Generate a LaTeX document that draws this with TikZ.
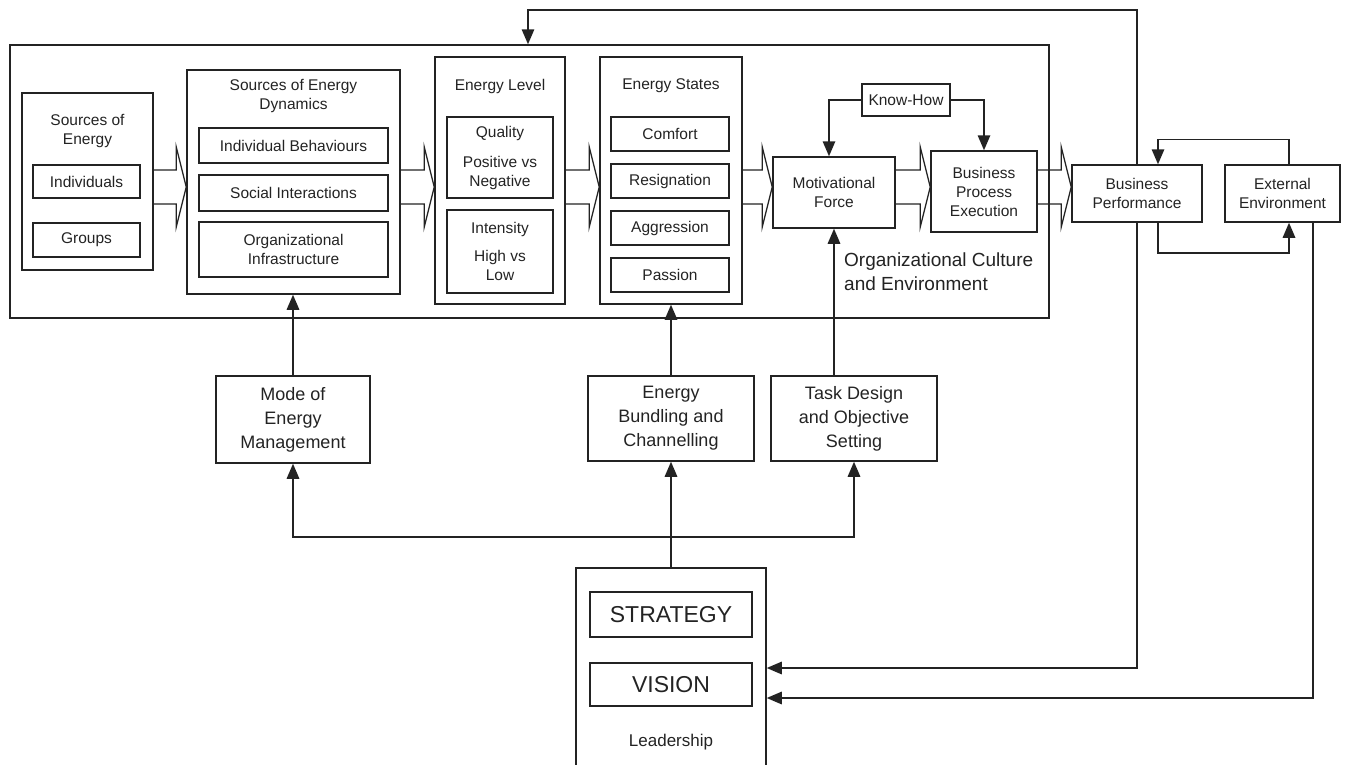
\documentclass[tikz,border=0pt]{standalone}
\usepackage{fontspec}
\setmainfont{Liberation Sans}
\usetikzlibrary{arrows.meta,calc}
\definecolor{ink}{RGB}{35,35,35}
\newcommand\fsmall{\fontsize{15.5}{19}\selectfont}
\newcommand\fmid{\fontsize{18}{24}\selectfont}
\newcommand\hollowarrow[2]{%
  \draw[hol] let \p1=(#1.east), \p2=(#2.west) in
    (\x1,-170pt) -- (\x2-10pt,-170pt) -- (\x2-10pt,-147pt) -- (\x2,-187pt)
    -- (\x2-10pt,-227pt) -- (\x2-10pt,-204pt) -- (\x1,-204pt);}
\begin{document}
\begin{tikzpicture}[x=1pt,y=-1pt,
  box/.style={draw=ink, line width=1.5pt, inner sep=0pt, align=center, font=\fsmall, text=ink},
  bigbox/.style={box, font=\fmid},
  txt/.style={inner sep=0pt, align=center, font=\fsmall, text=ink},
  con/.style={draw=ink, line width=1.5pt},
  arr/.style={-{Triangle[width=12.5pt,length=15pt]}},
  hol/.style={draw=ink, line width=1.3pt, line join=miter}]
\useasboundingbox (0,0) rectangle (1357,764);

% outer frame
\node[box, minimum width=1039pt, minimum height=273pt] (culture) at (529.5,181.5) {};
\node[anchor=west, align=left, inner sep=0pt, text=ink, font=\fontsize{19}{24}\selectfont] (culturelabel) at (844,272) {Organizational Culture\\and Environment};

% Sources of Energy
\node[box, minimum width=131pt, minimum height=177pt] (srcE) at (87.5,181.5) {};
\node[txt] (srcEt) at (87.5,131) {Sources of\\Energy};
\node[box, minimum width=107pt, minimum height=33pt] (indiv) at (86.5,181.5) {Individuals};
\node[box, minimum width=107pt, minimum height=34pt] (groups) at (86.5,240) {Groups};

% Sources of Energy Dynamics
\node[box, minimum width=213pt, minimum height=224pt] (dyn) at (293.5,182) {};
\node[txt] (dynt) at (293.5,96) {Sources of Energy\\Dynamics};
\node[box, minimum width=189pt, minimum height=35pt] (ib) at (293.5,145.5) {Individual Behaviours};
\node[box, minimum width=189pt, minimum height=36pt] (si) at (293.5,193) {Social Interactions};
\node[box, minimum width=189pt, minimum height=55pt] (oi) at (293.5,249.5) {Organizational\\Infrastructure};

% Energy Level
\node[box, minimum width=130pt, minimum height=247pt] (elevel) at (500,180.5) {};
\node[txt] (elevelt) at (500,86) {Energy Level};
\node[box, minimum width=106pt, minimum height=81pt] (quality) at (500,157.5) {Quality\\[11pt]Positive vs\\Negative};
\node[box, minimum width=106pt, minimum height=83pt] (intensity) at (500,251.5) {Intensity\\[9pt]High vs\\Low};

% Energy States
\node[box, minimum width=142pt, minimum height=247pt] (estates) at (671,180.5) {};
\node[txt] (estatest) at (671,86) {Energy States};
\node[box, minimum width=118pt, minimum height=34pt] (comfort) at (670,134) {Comfort};
\node[box, minimum width=118pt, minimum height=34pt] (resig) at (670,181) {Resignation};
\node[box, minimum width=118pt, minimum height=34pt] (aggr) at (670,228) {Aggression};
\node[box, minimum width=118pt, minimum height=34pt] (passion) at (670,275) {Passion};

% right part
\node[box, minimum width=122pt, minimum height=71pt] (motiv) at (834,192.5) {Motivational\\Force};
\node[box, minimum width=88pt, minimum height=32pt] (knowhow) at (906,100) {Know-How};
\node[box, minimum width=106pt, minimum height=81pt] (bpe) at (984,191.5) {Business\\Process\\Execution};
\node[box, minimum width=130pt, minimum height=57pt] (bp) at (1137,193.5) {Business\\Performance};
\node[box, minimum width=115pt, minimum height=57pt] (ext) at (1282.5,193.5) {External\\Environment};

% lower boxes
\node[bigbox, minimum width=154pt, minimum height=87pt] (mode) at (293,419.5) {Mode of\\Energy\\Management};
\node[bigbox, minimum width=166pt, minimum height=85pt] (ebc) at (671,418.5) {Energy\\Bundling and\\Channelling};
\node[bigbox, minimum width=166pt, minimum height=85pt] (task) at (854,418.5) {Task Design\\and Objective\\Setting};

% leadership
\node[box, minimum width=190pt, minimum height=212pt] (leader) at (671,674) {};
\node[box, minimum width=162pt, minimum height=45pt, font=\fontsize{23}{26}\selectfont] (strategy) at (671,614.5) {STRATEGY};
\node[box, minimum width=162pt, minimum height=43pt, font=\fontsize{23}{26}\selectfont] (vision) at (671,684.5) {VISION};
\node[txt, font=\fontsize{17}{20}\selectfont] (leadlabel) at (671,742) {Leadership};

% hollow arrows
\hollowarrow{srcE}{dyn}
\hollowarrow{dyn}{elevel}
\hollowarrow{elevel}{estates}
\hollowarrow{estates}{motiv}
\hollowarrow{motiv}{bpe}
\hollowarrow{bpe}{bp}

% know-how
\draw[con,arr] (knowhow.west) -| ([xshift=-5pt]motiv.north);
\draw[con,arr] (knowhow.east) -| (bpe.north);

% upward influences
\draw[con,arr] (mode.north) -- (mode.north |- dyn.south);
\draw[con,arr] (ebc.north) -- (ebc.north |- estates.south);
\draw[con,arr] (motiv.south |- task.north) -- (motiv.south);

% leadership branches
\coordinate (junc) at (671,537);
\draw[con,arr] (leader.north) -- (ebc.south);
\draw[con,arr] (junc) -| (mode.south);
\draw[con,arr] (junc) -| (task.south);

% feedback loops
\coordinate (tl) at (528,10);
\draw[con,arr] (bp.north) |- (tl) -- (tl |- culture.north);
\draw[con,arr] (bp.south) |- (leader.east |- 0,668);
\draw[con,arr] ([xshift=30.5pt]ext.south) |- (leader.east |- 0,698);
\draw[con,arr] ([xshift=6.5pt]ext.north) -- ++(0,-25) -| ([xshift=21pt]bp.north);
\draw[con,arr] ([xshift=21pt]bp.south) -- ++(0,30) -| ([xshift=6.5pt]ext.south);
\end{tikzpicture}
\end{document}
